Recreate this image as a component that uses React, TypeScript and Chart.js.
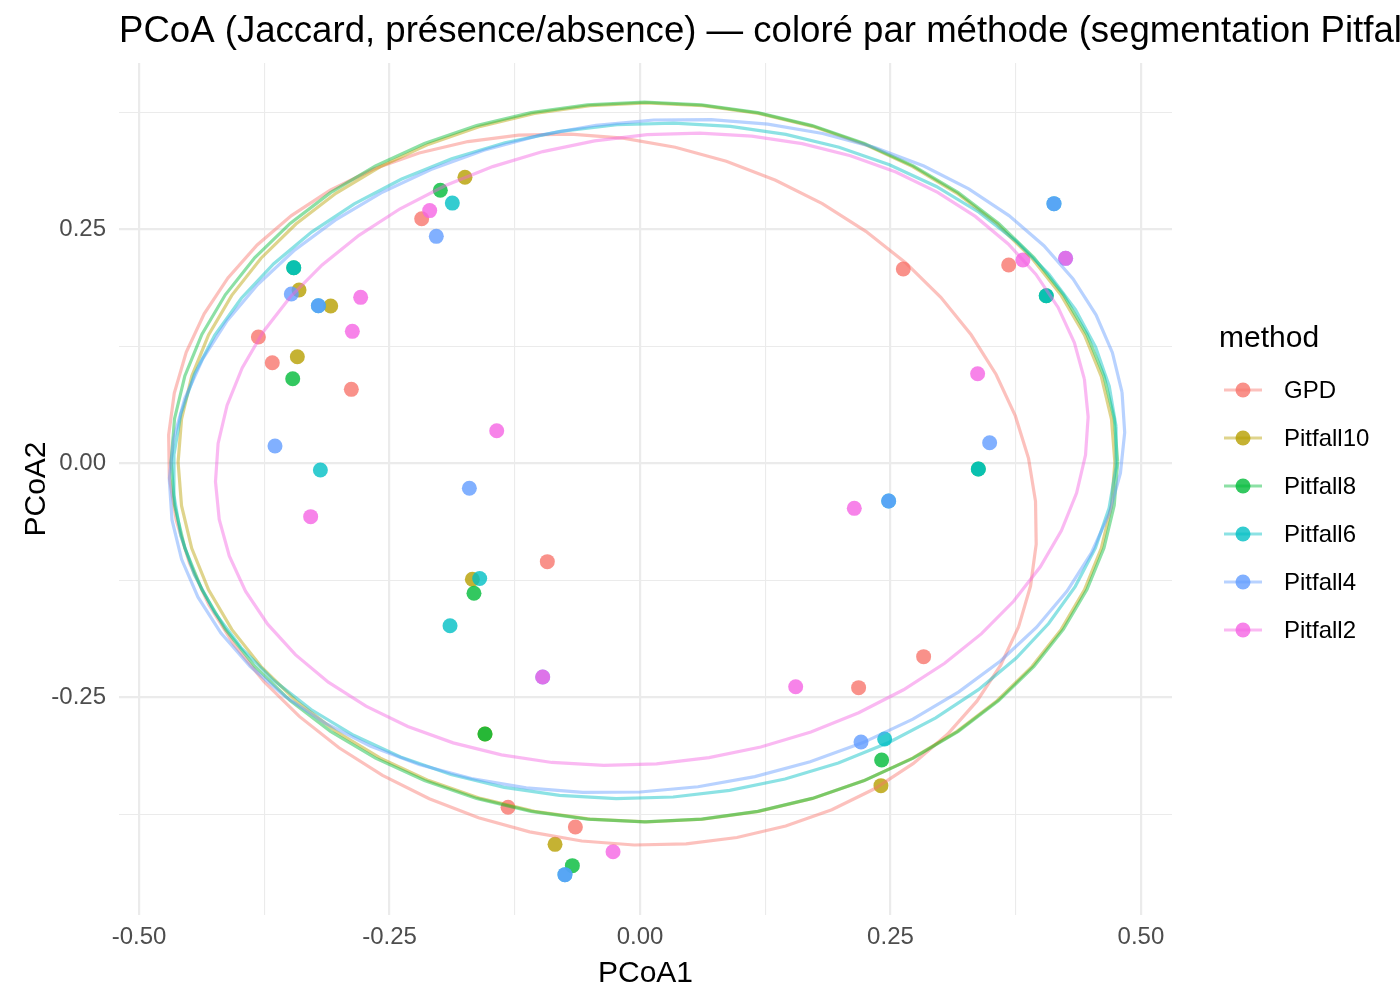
import React, { useEffect, useRef } from 'react';
import { Chart, registerables } from 'chart.js';

Chart.register(...registerables);

const TITLE = 'PCoA (Jaccard, présence/absence) — coloré par méthode (segmentation Pitfall)';
const X_TITLE = 'PCoA1';
const Y_TITLE = 'PCoA2';
const LEGEND_TITLE = 'method';

const methods = ['GPD', 'Pitfall10', 'Pitfall8', 'Pitfall6', 'Pitfall4', 'Pitfall2'];
const methodColors = ['#F8766D', '#B79F00', '#00BA38', '#00BFC4', '#619CFF', '#F564E3'];

// sample coordinates per method
const gpdX = [-0.2179, -0.3809, -0.367, -0.2881, -0.0925, -0.1317, -0.0645, 0.2831, 0.2182, 0.2628, 0.368];
const gpdY = [0.2613, 0.135, 0.1075, 0.079, -0.1051, -0.3675, -0.3886, -0.2066, -0.2397, 0.2076, 0.2119];

const pit10X = [-0.1747, -0.3403, -0.3087, -0.342, -0.1673, -0.1547, -0.0848, 0.2405];
const pit10Y = [0.3056, 0.1851, 0.168, 0.1139, -0.1239, -0.2892, -0.4071, -0.3444];

const pit8X = [-0.1993, -0.3456, -0.3466, -0.1657, -0.1547, -0.0675, 0.2412, 0.3377, 0.4055];
const pit8Y = [0.2917, 0.209, 0.0904, -0.1389, -0.2892, -0.4299, -0.317, -0.0061, 0.179];

const pit6X = [-0.1873, -0.3456, -0.321, -0.319, -0.16, -0.1896, -0.0749, 0.2442, 0.3377, 0.2482, 0.4132, 0.4055];
const pit6Y = [0.278, 0.209, 0.1684, -0.0072, -0.123, -0.1735, -0.4395, -0.2946, -0.0061, -0.0403, 0.2774, 0.179];

const pit4X = [-0.2033, -0.348, -0.321, -0.3643, -0.1703, -0.0971, -0.0749, 0.2206, 0.2482, 0.349, 0.4132, 0.4248];
const pit4Y = [0.2425, 0.1809, 0.1684, 0.0185, -0.0267, -0.2283, -0.4395, -0.2978, -0.0403, 0.022, 0.2774, 0.219];

const pit2X = [-0.2099, -0.2788, -0.2871, -0.143, -0.3287, -0.0971, -0.0269, 0.1554, 0.2139, 0.337, 0.3822, 0.4248];
const pit2Y = [0.27, 0.1773, 0.141, 0.0348, -0.057, -0.2283, -0.415, -0.2387, -0.0481, 0.0957, 0.2172, 0.219];

const pointsX = [gpdX, pit10X, pit8X, pit6X, pit4X, pit2X];
const pointsY = [gpdY, pit10Y, pit8Y, pit6Y, pit4Y, pit2Y];

// confidence ellipse parameters per method (centre, semi-axes, rotation in radians)
const ellipseCx = [-0.0375, 0.0065, 0.0044, 0.005, 0.007, 0.0118];
const ellipseCy = [-0.028, 0.001, 0.0014, 0.0026, 0.0078, 0.015];
const ellipseA = [0.4405, 0.4675, 0.4724, 0.4716, 0.479, 0.4382];
const ellipseB = [0.3718, 0.384, 0.3844, 0.3602, 0.357, 0.3344];
const ellipseTheta = [-0.339, 0, 0, 0.078, 0.143, 0.1717];
const ELLIPSE_SEGMENTS = 52;

const xMin = -0.52;
const xMax = 0.531;
const yMin = -0.4826;
const yMax = 0.4277;

const xMajorTicks = [-0.5, -0.25, 0, 0.25, 0.5];
const xTickLabels = ['-0.50', '-0.25', '0.00', '0.25', '0.50'];
const xMinorTicks = [-0.375, -0.125, 0.125, 0.375];
const yMajorTicks = [-0.25, 0, 0.25];
const yTickLabels = ['-0.25', '0.00', '0.25'];
const yMinorTicks = [-0.375, -0.125, 0.125, 0.375];

const FONT = '"Liberation Sans", Arial, Helvetica, sans-serif';
const POINT_ALPHA = 0.8;
const LINE_ALPHA = 0.45;

function rgba(hex: string, a: number) {
  const n = parseInt(hex.slice(1), 16);
  return `rgba(${(n >> 16) & 255},${(n >> 8) & 255},${n & 255},${a})`;
}

function ellipsePath(i: number) {
  const pts: { x: number; y: number }[] = [];
  const c = Math.cos(ellipseTheta[i]);
  const s = Math.sin(ellipseTheta[i]);
  for (let k = 0; k <= ELLIPSE_SEGMENTS; k++) {
    const t = (2 * Math.PI * k) / ELLIPSE_SEGMENTS;
    const u = ellipseA[i] * Math.cos(t);
    const v = ellipseB[i] * Math.sin(t);
    pts.push({ x: ellipseCx[i] + u * c - v * s, y: ellipseCy[i] + u * s + v * c });
  }
  return pts;
}

function labelFor(value: number, majors: number[], labels: string[]) {
  const idx = majors.findIndex((m) => Math.abs(m - value) < 1e-9);
  return idx >= 0 ? labels[idx] : '';
}

function isMajor(value: number, majors: number[]) {
  return majors.some((m) => Math.abs(m - value) < 1e-9);
}

const textPlugin = {
  id: 'ggText',
  afterDraw(chart: any) {
    const ctx = chart.ctx as CanvasRenderingContext2D;
    const area = chart.chartArea;
    ctx.save();
    ctx.fillStyle = '#000000';
    // plot title
    ctx.font = `36.6px ${FONT}`;
    ctx.textAlign = 'left';
    ctx.textBaseline = 'alphabetic';
    ctx.fillText(TITLE, 119, 42);
    // axis titles
    ctx.font = `30px ${FONT}`;
    ctx.textAlign = 'center';
    ctx.fillText(X_TITLE, (area.left + area.right) / 2, 982);
    ctx.save();
    ctx.translate(45, (area.top + area.bottom) / 2);
    ctx.rotate(-Math.PI / 2);
    ctx.fillText(Y_TITLE, 0, 0);
    ctx.restore();
    // legend
    ctx.textAlign = 'left';
    ctx.font = `30px ${FONT}`;
    ctx.fillText(LEGEND_TITLE, 1219, 347);
    ctx.font = `24px ${FONT}`;
    ctx.textBaseline = 'middle';
    methods.forEach((m, i) => {
      const y = 390 + i * 48;
      ctx.strokeStyle = rgba(methodColors[i], LINE_ALPHA);
      ctx.lineWidth = 3.2;
      ctx.beginPath();
      ctx.moveTo(1224, y);
      ctx.lineTo(1262, y);
      ctx.stroke();
      ctx.fillStyle = rgba(methodColors[i], POINT_ALPHA);
      ctx.beginPath();
      ctx.arc(1243, y, 7.5, 0, Math.PI * 2);
      ctx.fill();
      ctx.fillStyle = '#000000';
      ctx.fillText(m, 1284, y + 1);
    });
    ctx.restore();
  },
};

export default function App() {
  const canvasRef = useRef<HTMLCanvasElement | null>(null);

  useEffect(() => {
    const canvas = canvasRef.current;
    if (!canvas) return;

    const datasets: any[] = [];
    methods.forEach((m, i) => {
      datasets.push({
        label: m,
        data: pointsX[i].map((x, k) => ({ x, y: pointsY[i][k] })),
        showLine: false,
        pointRadius: 7.5,
        pointHoverRadius: 7.5,
        pointBorderWidth: 0,
        backgroundColor: rgba(methodColors[i], POINT_ALPHA),
        borderColor: rgba(methodColors[i], POINT_ALPHA),
        order: 20 - i,
      });
    });
    methods.forEach((m, i) => {
      datasets.push({
        label: m + ' ellipse',
        data: ellipsePath(i),
        showLine: true,
        fill: false,
        tension: 0,
        pointRadius: 0,
        pointHoverRadius: 0,
        borderWidth: 3.2,
        borderColor: rgba(methodColors[i], LINE_ALPHA),
        backgroundColor: rgba(methodColors[i], LINE_ALPHA),
        order: 10 - i,
      });
    });

    const chart = new Chart(canvas, {
      type: 'scatter',
      data: { datasets },
      options: {
        responsive: false,
        animation: false,
        events: [],
        layout: { padding: { left: 0, top: 63, right: 228, bottom: 0 } },
        plugins: {
          legend: { display: false },
          title: { display: false },
          tooltip: { enabled: false },
        },
        scales: {
          x: {
            type: 'linear',
            min: xMin,
            max: xMax,
            border: { display: false },
            grid: {
              color: '#EBEBEB',
              drawTicks: false,
              lineWidth: (ctx: any) => (ctx.tick && isMajor(ctx.tick.value, xMajorTicks) ? 2.2 : 1.1),
            },
            ticks: {
              autoSkip: false,
              maxRotation: 0,
              padding: 8,
              color: '#4D4D4D',
              font: { size: 24, family: FONT },
              callback: (v: any) => labelFor(Number(v), xMajorTicks, xTickLabels),
            },
            afterBuildTicks: (scale: any) => {
              scale.ticks = [...xMajorTicks, ...xMinorTicks].sort((a, b) => a - b).map((v) => ({ value: v }));
            },
            afterFit: (scale: any) => {
              scale.height = 1000 - 915;
            },
          },
          y: {
            type: 'linear',
            min: yMin,
            max: yMax,
            border: { display: false },
            grid: {
              color: '#EBEBEB',
              drawTicks: false,
              lineWidth: (ctx: any) => (ctx.tick && isMajor(ctx.tick.value, yMajorTicks) ? 2.2 : 1.1),
            },
            ticks: {
              autoSkip: false,
              padding: 13,
              color: '#4D4D4D',
              font: { size: 24, family: FONT },
              callback: (v: any) => labelFor(Number(v), yMajorTicks, yTickLabels),
            },
            afterBuildTicks: (scale: any) => {
              scale.ticks = [...yMajorTicks, ...yMinorTicks].sort((a, b) => a - b).map((v) => ({ value: v }));
            },
            afterFit: (scale: any) => {
              scale.width = 119;
            },
          },
        },
      },
      plugins: [textPlugin],
    });

    return () => {
      chart.destroy();
    };
  }, []);

  return (
    <div style={{ position: 'absolute', left: 0, top: 0, width: 1400, height: 1000, background: '#ffffff' }}>
      <canvas ref={canvasRef} width={1400} height={1000} style={{ display: 'block' }} />
    </div>
  );
}
